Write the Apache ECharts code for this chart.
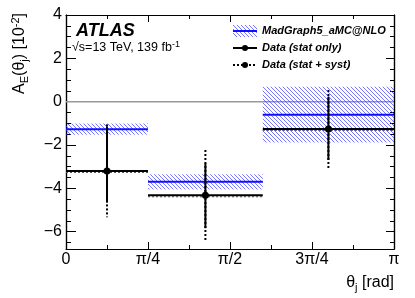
<!DOCTYPE html>
<html>
<head>
<meta charset="utf-8">
<script src="https://cdn.jsdelivr.net/npm/echarts@6/dist/echarts.min.js"></script>
<style>html,body{margin:0;padding:0;background:#fff;}#c{width:415px;height:298px;}</style>
</head>
<body>
<div id="c"></div>
<script>
// ---- data (x in units of pi) ----
var binEdges = [0, 0.25, 0.6, 1.0];
var mcValues = [-1.27, -3.70, -0.60];
var mcErrors = [0.26, 0.35, 1.29];
var dataValues = [-3.20, -4.32, -1.26];
var statHigh = [-1.15, -2.84, 0.23];
var statLow = [-4.65, -5.84, -2.69];
var totHigh = [-1.05, -2.23, 0.54];
var totLow = [-5.33, -6.46, -3.07];
var refLine = [0];
var xTickValues = [0, 0.25, 0.5, 0.75, 1.0];
var xTickLabels = ['0', 'π/4', 'π/2', '3π/4', 'π'];
var yMajorTicks = [-6, -4, -2, 0, 2, 4];
var yMinorTicks = [-6.5, -6, -5.5, -5, -4.5, -4, -3.5, -3, -2.5, -2, -1.5, -1, -0.5, 0, 0.5, 1, 1.5, 2, 2.5, 3, 3.5, 4];
var yRange = [-6.8, 4];

var FONT = '"Liberation Sans", Arial, Helvetica, sans-serif';

// hatch pattern
var pc = document.createElement('canvas');
pc.width = 4; pc.height = 4;
var pctx = pc.getContext('2d');
pctx.strokeStyle = 'rgba(60,60,255,0.7)';
pctx.lineWidth = 1;
pctx.beginPath();
pctx.moveTo(-1, -1); pctx.lineTo(5, 5);
pctx.moveTo(-1, 3); pctx.lineTo(1, 5);
pctx.moveTo(3, -1); pctx.lineTo(5, 1);
pctx.stroke();
var hatch = {image: pc, repeat: 'repeat'};

var bandData = [], pointData = [];
for (var i = 0; i < mcValues.length; i++) {
  bandData.push([binEdges[i], binEdges[i + 1], mcValues[i], mcErrors[i]]);
  pointData.push([binEdges[i], binEdges[i + 1], dataValues[i], statHigh[i], statLow[i], totHigh[i], totLow[i]]);
}

function yAxisDef(pos, ticks, len, labels) {
  return {
    type: 'value', position: pos, min: yRange[0], max: yRange[1],
    axisLine: {show: true, onZero: false, lineStyle: {color: '#000', width: 1.2}},
    axisTick: {show: true, inside: true, length: len, customValues: ticks, lineStyle: {color: '#000', width: 1}},
    axisLabel: labels ? {show: true, customValues: yMajorTicks, margin: 4, fontSize: 16, color: '#000', fontFamily: FONT,
      formatter: function (v) { return v < 0 ? '\u2212' + Math.abs(v) : String(v); }} : {show: false},
    splitLine: {show: false}
  };
}
function xAxisDef(pos, labels) {
  return {
    type: 'value', position: pos, min: 0, max: 1, interval: 0.25,
    axisLine: {show: true, onZero: false, lineStyle: {color: '#000', width: 1.2}},
    axisTick: {show: true, inside: true, length: 7, lineStyle: {color: '#000', width: 1}},
    minorTick: {show: true, splitNumber: 2, length: 4, lineStyle: {color: '#000', width: 1}},
    axisLabel: labels ? {show: true, margin: 3, fontSize: 16, color: '#000', fontFamily: FONT,
      formatter: function (v) { var k = xTickValues.indexOf(Math.round(v * 100) / 100); return k >= 0 ? xTickLabels[k] : ''; }} : {show: false},
    splitLine: {show: false}
  };
}

var chart = echarts.init(document.getElementById('c'), null, {renderer: 'canvas'});
chart.setOption({
  animation: false,
  backgroundColor: '#fff',
  grid: {left: 66, right: 21, top: 15, bottom: 49, show: false},
  xAxis: [xAxisDef('bottom', true), xAxisDef('top', false)],
  yAxis: [
    yAxisDef('left', yMajorTicks, 10, true),
    yAxisDef('left', yMinorTicks, 5, false),
    yAxisDef('right', yMajorTicks, 8, false),
    yAxisDef('right', yMinorTicks, 4, false)
  ],
  series: [
    {
      type: 'line', xAxisIndex: 0, yAxisIndex: 0, silent: true, symbol: 'none',
      data: [[0, refLine[0]], [1, refLine[0]]],
      lineStyle: {color: '#999', width: 1.5}, z: 1
    },
    {
      type: 'custom', xAxisIndex: 0, yAxisIndex: 0, z: 2,
      data: bandData,
      encode: {x: [0, 1], y: [2]},
      renderItem: function (params, api) {
        var lo = api.value(0), hi = api.value(1), c = api.value(2), e = api.value(3);
        var p1 = api.coord([lo, c + e]), p2 = api.coord([hi, c - e]);
        var pl = api.coord([lo, c]), ph = api.coord([hi, c]);
        return {type: 'group', children: [
          {type: 'rect', shape: {x: p1[0], y: p1[1], width: p2[0] - p1[0], height: p2[1] - p1[1]},
           style: {fill: hatch, stroke: null}},
          {type: 'line', shape: {x1: pl[0], y1: pl[1], x2: ph[0], y2: ph[1]},
           style: {stroke: '#1010ff', lineWidth: 2}}
        ]};
      }
    },
    {
      type: 'custom', xAxisIndex: 0, yAxisIndex: 0, z: 3,
      data: pointData,
      encode: {x: [0, 1], y: [2]},
      renderItem: function (params, api) {
        var lo = api.value(0), hi = api.value(1), v = api.value(2);
        var sh = api.value(3), sl = api.value(4), th = api.value(5), tl = api.value(6);
        var xm = (lo + hi) / 2;
        var pl = api.coord([lo, v]), ph = api.coord([hi, v]), pm = api.coord([xm, v]);
        var pSh = api.coord([xm, sh]), pSl = api.coord([xm, sl]);
        var pTh = api.coord([xm, th]), pTl = api.coord([xm, tl]);
        return {type: 'group', children: [
          {type: 'line', shape: {x1: pl[0], y1: pl[1] + 1.5, x2: ph[0], y2: ph[1] + 1.5},
           style: {stroke: '#555', lineWidth: 1, lineDash: [2, 2]}},
          {type: 'line', shape: {x1: pTh[0], y1: pTh[1], x2: pTl[0], y2: pTl[1]},
           style: {stroke: '#000', lineWidth: 2, lineDash: [2, 2]}},
          {type: 'line', shape: {x1: pSh[0], y1: pSh[1], x2: pSl[0], y2: pSl[1]},
           style: {stroke: '#000', lineWidth: 2}},
          {type: 'line', shape: {x1: pl[0], y1: pl[1], x2: ph[0], y2: ph[1]},
           style: {stroke: '#000', lineWidth: 2}},
          {type: 'circle', shape: {cx: pm[0], cy: pm[1], r: 3.5}, style: {fill: '#000'}}
        ]};
      }
    }
  ],
  graphic: [
    {type: 'text', left: 76, top: 22, style: {text: 'ATLAS', font: 'italic bold 18px ' + FONT, fill: '#000'}},
    {type: 'text', left: 72, top: 40, style: {
      text: '{a|\u221As=13 TeV, 139 fb}{s|-1}',
      rich: {a: {fontSize: 12.5, fontFamily: FONT, fill: '#000', verticalAlign: 'bottom', lineHeight: 14},
             s: {fontSize: 9, fontFamily: FONT, fill: '#000', verticalAlign: 'top', lineHeight: 14}}
    }},
    // y axis title
    {type: 'text', x: 20, y: 13, rotation: Math.PI / 2, style: {
      text: '{a|A}{b|E}{a|(θ}{b|j}{a|) [10}{c|-2}{a|]}',
      align: 'right', verticalAlign: 'middle',
      rich: {a: {fontSize: 16, fontFamily: FONT, fill: '#000', lineHeight: 20, verticalAlign: 'middle'},
             b: {fontSize: 11, fontFamily: FONT, fill: '#000', lineHeight: 20, verticalAlign: 'bottom', padding: [6, 0, 0, 0]},
             c: {fontSize: 11, fontFamily: FONT, fill: '#000', lineHeight: 20, verticalAlign: 'top', padding: [0, 0, 6, 0]}}
    }},
    // x axis title
    {type: 'text', x: 394, y: 283, style: {
      text: '{a|θ}{b|j}{a| [rad]}', align: 'right', verticalAlign: 'middle',
      rich: {a: {fontSize: 16, fontFamily: FONT, fill: '#000', lineHeight: 20, verticalAlign: 'middle'},
             b: {fontSize: 11, fontFamily: FONT, fill: '#000', lineHeight: 20, verticalAlign: 'bottom', padding: [6, 0, 0, 0]}}
    }},
    // legend
    {type: 'rect', shape: {x: 233, y: 25, width: 24, height: 12}, style: {fill: hatch}},
    {type: 'line', shape: {x1: 233, y1: 31, x2: 257, y2: 31}, style: {stroke: '#1010ff', lineWidth: 2}},
    {type: 'text', x: 262, y: 31, style: {text: 'MadGraph5_aMC@NLO', font: 'italic bold 11px ' + FONT, fill: '#000', verticalAlign: 'middle'}},
    {type: 'line', shape: {x1: 233, y1: 48, x2: 257, y2: 48}, style: {stroke: '#000', lineWidth: 2}},
    {type: 'circle', shape: {cx: 245, cy: 48, r: 3}, style: {fill: '#000'}},
    {type: 'text', x: 262, y: 48, style: {text: 'Data (stat only)', font: 'italic bold 11px ' + FONT, fill: '#000', verticalAlign: 'middle'}},
    {type: 'line', shape: {x1: 233, y1: 65, x2: 257, y2: 65}, style: {stroke: '#000', lineWidth: 2, lineDash: [2, 2]}},
    {type: 'circle', shape: {cx: 245, cy: 65, r: 3}, style: {fill: '#000'}},
    {type: 'text', x: 262, y: 65, style: {text: 'Data (stat + syst)', font: 'italic bold 11px ' + FONT, fill: '#000', verticalAlign: 'middle'}}
  ]
});
</script>
</body>
</html>
